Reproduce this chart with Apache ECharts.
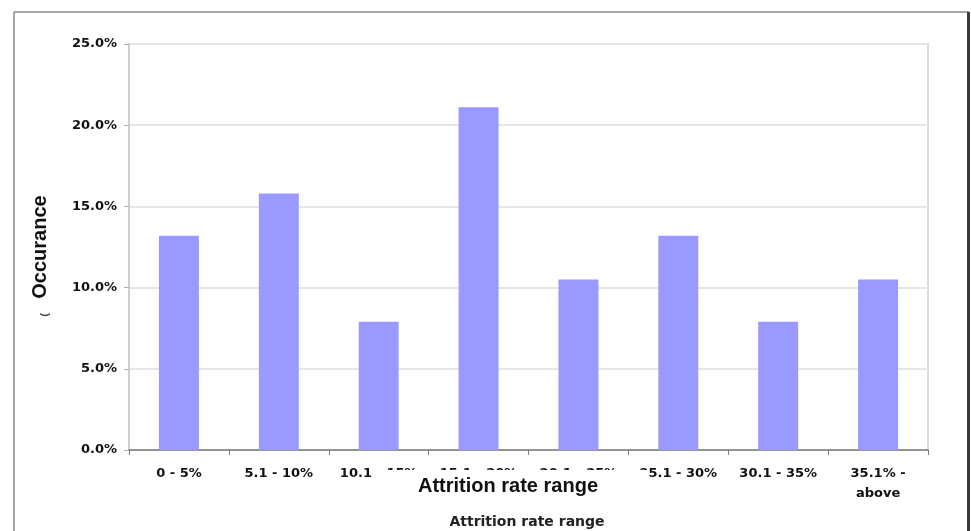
<!DOCTYPE html>
<html>
<head>
<meta charset="utf-8">
<script src="https://cdn.jsdelivr.net/npm/echarts@6/dist/echarts.min.js"></script>
<style>
  html, body { margin: 0; padding: 0; background: #fff; }
  #chart { width: 971px; height: 531px; }
</style>
</head>
<body>
<div id="chart"></div>
<script>
// Attrition rate ranges and share of occurrences (%)
const categories = ['0 - 5%', '5.1 - 10%', '10.1 - 15%', '15.1 - 20%', '20.1 - 25%', '25.1 - 30%', '30.1 - 35%', '35.1% -\nabove'];
const occurrence = [13.2, 15.8, 7.9, 21.1, 10.5, 13.2, 7.9, 10.5];
const yTicks = { min: 0, max: 25, step: 5 };

const chart = echarts.init(document.getElementById('chart'));
const labelFont = 'DejaVu Sans';

chart.setOption({
  animation: false,
  backgroundColor: '#ffffff',
  grid: {
    left: 129, right: 43, top: 44, bottom: 81,
    show: true, borderColor: '#dcdcdc', borderWidth: 2
  },
  xAxis: {
    type: 'category',
    data: categories,
    axisLine: { lineStyle: { color: '#7a7a7a', width: 1.5 } },
    axisTick: { show: true, length: 5, alignWithLabel: false, lineStyle: { color: '#7a7a7a' } },
    axisLabel: {
      interval: 0, margin: 14, color: '#111',
      fontFamily: labelFont, fontWeight: 'bold', fontSize: 13, lineHeight: 20
    }
  },
  yAxis: {
    type: 'value',
    min: yTicks.min, max: yTicks.max, interval: yTicks.step,
    name: 'Occurance',
    nameLocation: 'middle',
    nameGap: 79,
    nameTextStyle: { fontFamily: 'Liberation Sans', fontWeight: 'bold', fontSize: 20, color: '#111' },
    axisLine: { show: true, lineStyle: { color: '#cfcfcf', width: 2 } },
    axisTick: { show: true, length: 5, lineStyle: { color: '#b0b0b0' } },
    axisLabel: {
      margin: 12, color: '#111',
      fontFamily: labelFont, fontWeight: 'bold', fontSize: 13,
      formatter: v => v.toFixed(1) + '%'
    },
    splitLine: { lineStyle: { color: '#e6e6e6', width: 2 } }
  },
  series: [{
    type: 'bar',
    data: occurrence,
    barWidth: '40%',
    itemStyle: { color: '#9999ff' }
  }],
  graphic: [
    // outer figure frame
    { type: 'line', shape: { x1: 14, y1: 12, x2: 969, y2: 12 }, style: { stroke: '#8a8a8a', lineWidth: 1.5 }, z: 10 },
    { type: 'line', shape: { x1: 14, y1: 12, x2: 14, y2: 531 }, style: { stroke: '#8a8a8a', lineWidth: 1.5 }, z: 10 },
    { type: 'line', shape: { x1: 968.5, y1: 12, x2: 968.5, y2: 531 }, style: { stroke: '#3a3a3a', lineWidth: 3 }, z: 10 },
    // axis title box sitting over the tick labels
    { type: 'rect', shape: { x: 375, y: 470, width: 273, height: 36 }, style: { fill: '#ffffff' }, z: 20 },
    {
      type: 'text', x: 508, y: 486, z: 21,
      style: {
        text: 'Attrition rate range', align: 'center', verticalAlign: 'middle',
        font: 'bold 20px "Liberation Sans"', fill: '#111'
      }
    },
    {
      type: 'text', x: 527, y: 522, z: 21,
      style: {
        text: 'Attrition rate range', align: 'center', verticalAlign: 'middle',
        font: 'bold 14px "DejaVu Sans"', fill: '#222'
      }
    },
    {
      type: 'text', x: 45, y: 315, rotation: Math.PI / 2, z: 21,
      style: {
        text: '(', align: 'center', verticalAlign: 'middle',
        font: 'bold 11px "Liberation Sans"', fill: '#444'
      }
    }
  ]
});
</script>
</body>
</html>
